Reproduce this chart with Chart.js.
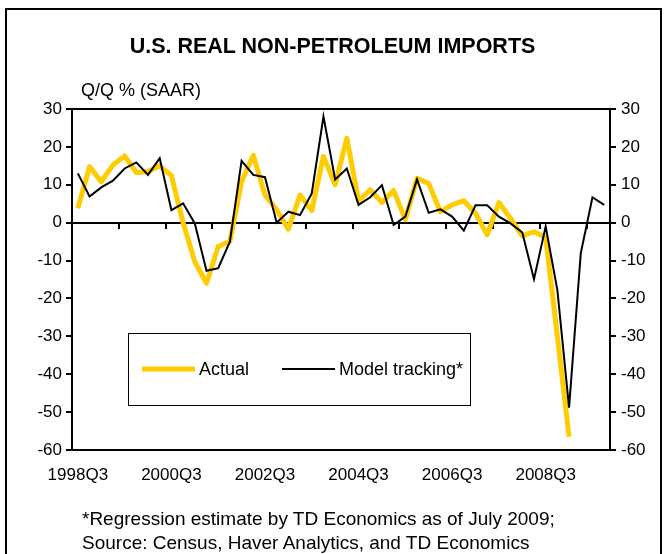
<!DOCTYPE html>
<html>
<head>
<meta charset="utf-8">
<script src="https://cdn.jsdelivr.net/npm/chart.js@4.4.1/dist/chart.umd.min.js"></script>
<style>
  body { margin: 0; background: #fff; font-family: "Liberation Sans", Arial, sans-serif; }
  #wrap { position: relative; width: 665px; height: 554px; overflow: hidden; }
  #frame { position: absolute; left: 5px; top: 8px; width: 653px; height: 600px;
    border: 2px solid #000; border-bottom: none; }
  #chart { position: absolute; left: 0; top: 0; }
  .txt { position: absolute; color: #000; white-space: nowrap; }
  #title { left: 0; width: 665px; top: 33px; text-align: center; font-weight: bold;
    font-size: 21.5px; line-height: 26px; }
</style>
</head>
<body>
<div id="wrap">
  <div id="frame"></div>
  <canvas id="chart" width="665" height="554"></canvas>
  <div class="txt" id="title">U.S. REAL NON-PETROLEUM IMPORTS</div>
  <div class="txt" style="left:81px; top:79px; font-size:18px; line-height:22px;">Q/Q % (SAAR)</div>
  <div class="txt" style="left:82px; top:507px; font-size:19px; line-height:24px;">*Regression estimate by TD Economics as of July 2009;</div>
  <div class="txt" style="left:82px; top:531px; font-size:19px; line-height:24px;">Source: Census, Haver Analytics, and TD Economics</div>
</div>
<script>
// quarters from 1998Q3 onward
var quarters = [];
for (var yr = 1998, q = 3; quarters.length < 46; q++) {
  if (q > 4) { q = 1; yr++; }
  quarters.push(yr + "Q" + q);
}
var tickLabels = ["1998Q3", "2000Q3", "2002Q3", "2004Q3", "2006Q3", "2008Q3"];

// Actual, Q/Q % SAAR (1998Q3 - 2009Q1)
var actual = [3.8, 14.8, 10.8, 15.2, 17.6, 13.2, 13.5, 15, 12.4, 0,
  -10.3, -16, -6.3, -5, 10.8, 17.8, 7.3, 3.4, -1.7, 7.3,
  3.2, 17.5, 10, 22.3, 5.7, 8.7, 5.3, 8.5, 0.8, 11.7,
  10.3, 2.9, 4.7, 5.8, 2.5, -3.2, 5.3, 1.1, -3.5, -2.4,
  -3.9, -30, -56.5];

// Model tracking* (1998Q3 - 2009Q4)
var model = [13, 6.9, 9.3, 11.1, 14.3, 15.9, 12.6, 17, 3.3, 5.1,
  -0.2, -12.7, -12, -5, 16.3, 12.6, 12, 0, 2.9, 2,
  7.7, 28, 11.4, 14.3, 4.7, 6.7, 9.9, -0.6, 1.6, 11.4,
  2.6, 3.5, 1.6, -2.1, 4.6, 4.6, 1.6, -0.2, -2.6, -14.9,
  -1, -17.8, -48.8, -8.1, 6.7, 4.7];

var tickFont = { family: "'Liberation Sans', Arial, sans-serif", size: 17 };

// legend drawn inside the plot area
var legendBox = {
  id: 'legendBox',
  afterDatasetsDraw: function(chart) {
    var ctx = chart.ctx, a = chart.chartArea;
    var x = a.left + 56, y = a.top + 224, w = 342, h = 72;
    var ds = chart.data.datasets;
    ctx.save();
    ctx.fillStyle = '#fff';
    ctx.fillRect(x, y, w, h);
    ctx.strokeStyle = '#000';
    ctx.lineWidth = 1;
    ctx.strokeRect(x + 0.5, y + 0.5, w, h);
    var items = [{ ds: ds[0], x0: x + 14 }, { ds: ds[1], x0: x + 154 }];
    ctx.font = "18px 'Liberation Sans', Arial, sans-serif";
    ctx.textBaseline = 'middle';
    items.forEach(function(it) {
      ctx.beginPath();
      ctx.strokeStyle = it.ds.borderColor;
      ctx.lineWidth = it.ds.borderWidth;
      ctx.moveTo(it.x0, y + 36);
      ctx.lineTo(it.x0 + 53, y + 36);
      ctx.stroke();
      ctx.fillStyle = '#000';
      ctx.fillText(it.ds.label, it.x0 + 57, y + 37);
    });
    ctx.restore();
  }
};

new Chart(document.getElementById('chart'), {
  type: 'line',
  data: {
    labels: quarters,
    datasets: [{
      label: 'Actual',
      data: actual,
      borderColor: '#FFCC00',
      borderWidth: 5,
      pointRadius: 0,
      tension: 0,
      order: 1,
      borderJoinStyle: 'round'
    }, {
      label: 'Model tracking*',
      data: model,
      borderColor: '#000000',
      borderWidth: 2,
      pointRadius: 0,
      tension: 0,
      order: 0
    }]
  },
  options: {
    responsive: false,
    animation: false,
    layout: { padding: { left: 32, right: 15, top: 109, bottom: 64 } },
    plugins: {
      legend: { display: false },
      tooltip: { enabled: false }
    },
    scales: {
      x: {
        type: 'category',
        position: 'bottom',
        offset: true,
        grid: { display: false, drawTicks: false },
        border: { display: true, color: '#000', width: 2 },
        ticks: {
          autoSkip: false, maxRotation: 0, padding: 15, color: '#000', font: tickFont,
          callback: function(v) {
            var l = this.getLabelForValue(v);
            return tickLabels.indexOf(l) >= 0 ? l : '';
          }
        },
        afterFit: function(s) { s.height = 40; }
      },
      xZero: {
        type: 'category',
        position: { y: 0 },
        offset: true,
        grid: {
          offset: true, drawOnChartArea: false, drawTicks: true, tickLength: 5, lineWidth: 2,
          color: function(c) { return c.index % 4 === 0 ? '#000' : 'rgba(0,0,0,0)'; }
        },
        border: { display: true, color: '#000', width: 2 },
        ticks: { display: false, autoSkip: false }
      },
      xTop: {
        type: 'category',
        position: 'top',
        grid: { display: false, drawTicks: false },
        border: { display: true, color: '#000', width: 2 },
        ticks: { display: false },
        afterFit: function(s) { s.height = 0; }
      },
      y: {
        position: 'left',
        min: -60, max: 30,
        grid: { drawOnChartArea: false, drawTicks: true, tickLength: 6, color: '#000', lineWidth: 2 },
        border: { display: true, color: '#000', width: 2 },
        ticks: { stepSize: 10, padding: 4, color: '#000', font: tickFont },
        afterFit: function(s) { s.width = 40; }
      },
      y2: {
        position: 'right',
        min: -60, max: 30,
        grid: { drawOnChartArea: false, drawTicks: true, tickLength: 6, color: '#000', lineWidth: 2 },
        border: { display: true, color: '#000', width: 2 },
        ticks: { stepSize: 10, padding: 5, color: '#000', font: tickFont },
        afterFit: function(s) { s.width = 40; }
      }
    }
  },
  plugins: [legendBox]
});
</script>
</body>
</html>
